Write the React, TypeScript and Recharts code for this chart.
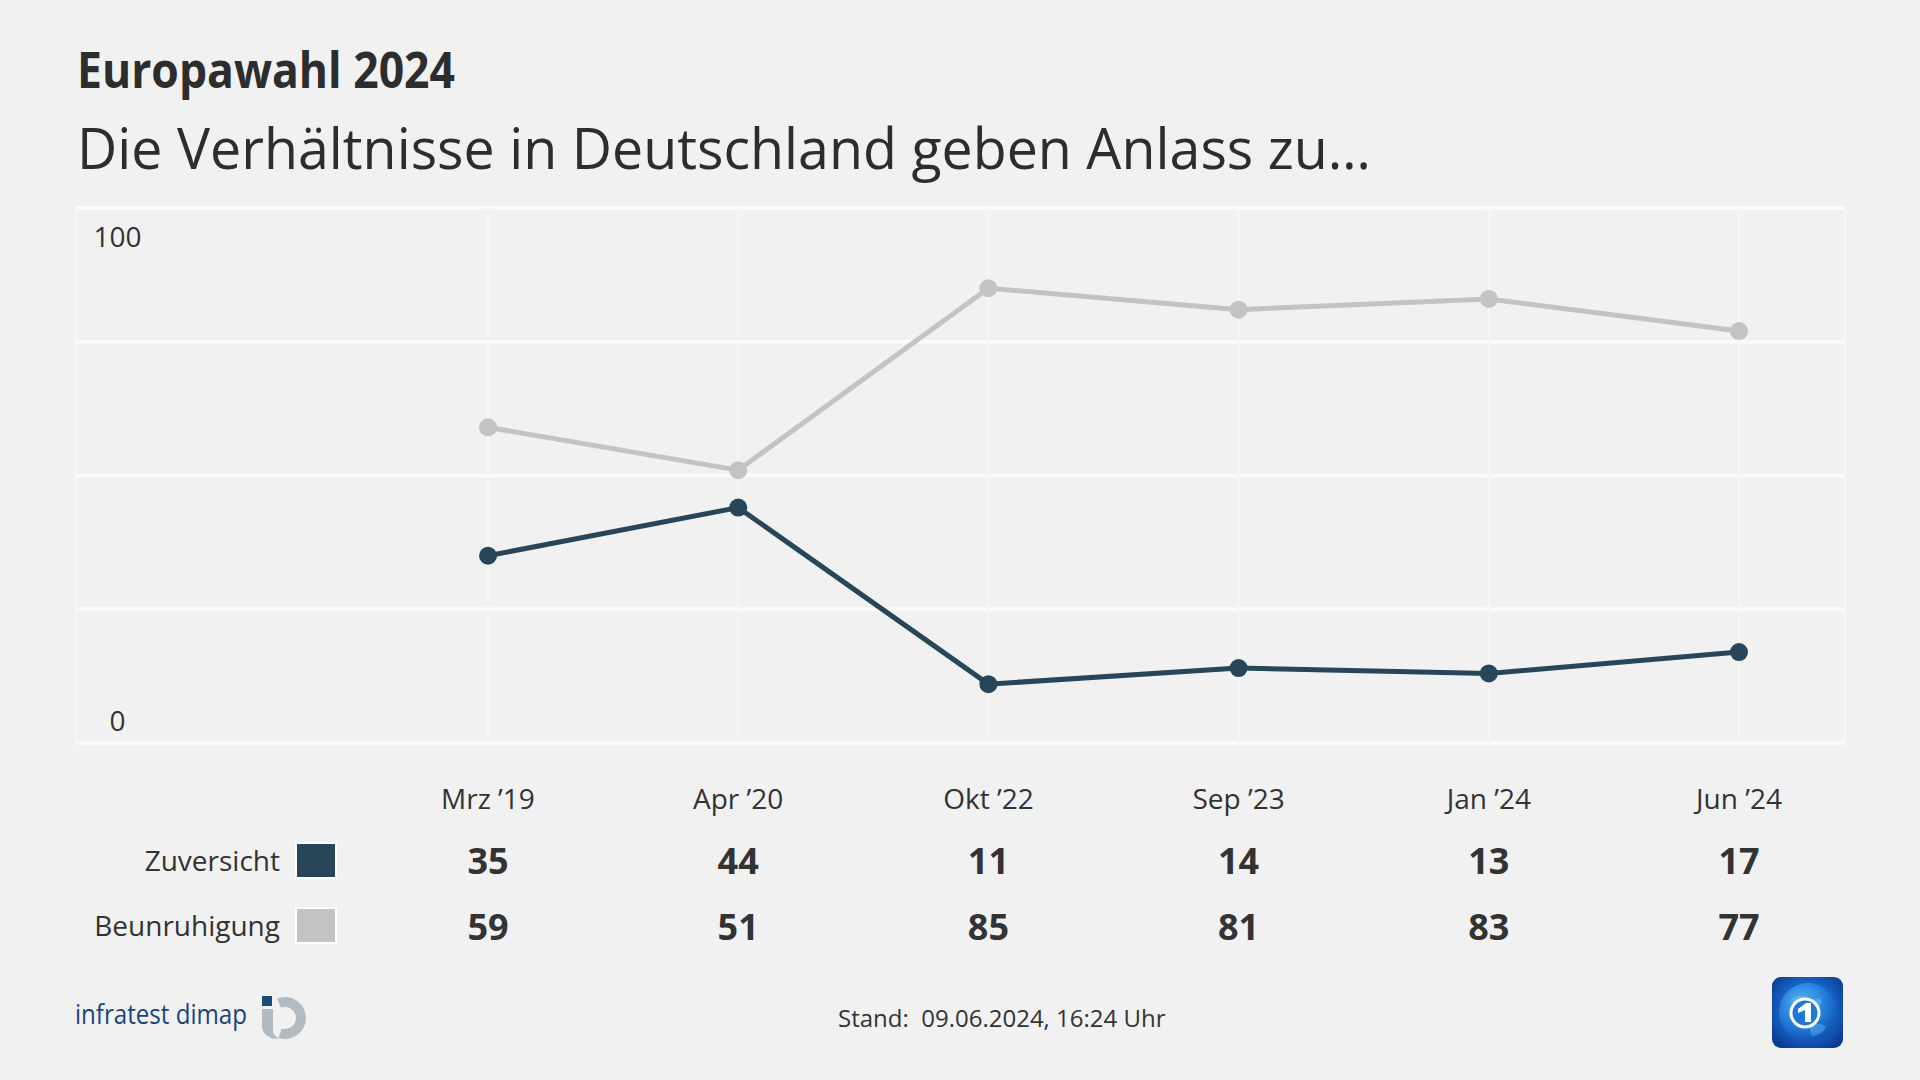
import React from 'react';
import { LineChart, Line, XAxis, YAxis, CartesianGrid } from 'recharts';

const categories = ['Mrz ’19', 'Apr ’20', 'Okt ’22', 'Sep ’23', 'Jan ’24', 'Jun ’24'];
const zuversicht = [35, 44, 11, 14, 13, 17];
const beunruhigung = [59, 51, 85, 81, 83, 77];
const yTicks = [0, 25, 50, 75, 100];
const yLabelTicks = [0, 100];

const seriesNames = ['Zuversicht', 'Beunruhigung'];
const seriesColors = ['#28465a', '#c3c3c3'];

const data = categories.map((c, i) => ({
  cat: c,
  zuversicht: zuversicht[i],
  beunruhigung: beunruhigung[i],
}));

const FONT = "'Open Sans', 'Noto Sans', sans-serif";
const TEXT = '#333333';

const XTick = (props: any) => {
  const { x, payload } = props;
  const i = categories.indexOf(payload.value);
  return (
    <g>
      <text x={x} y={809} textAnchor="middle" fontSize={28} fill={TEXT} fontFamily={FONT}>
        {payload.value}
      </text>
      <text x={x} y={874} textAnchor="middle" fontSize={36} fontWeight={700} fill={TEXT} fontFamily={FONT}>
        {zuversicht[i]}
      </text>
      <text x={x} y={940} textAnchor="middle" fontSize={36} fontWeight={700} fill={TEXT} fontFamily={FONT}>
        {beunruhigung[i]}
      </text>
    </g>
  );
};

const YTick = (props: any) => {
  const { y, payload } = props;
  if (!yLabelTicks.includes(Number(payload.value))) return <g />;
  const dy = Number(payload.value) === 100 ? 39 : -12;
  return (
    <text x={117.5} y={y + dy} textAnchor="middle" fontSize={28} fill={TEXT} fontFamily={FONT}>
      {payload.value}
    </text>
  );
};

const InfratestLogo = () => {
  const cx = 285, cy = 1018, R = 21, r = 11;
  const a0 = (-112 * Math.PI) / 180;
  const a1 = (108 * Math.PI) / 180;
  const p = (rad: number, a: number) => `${cx + rad * Math.cos(a)} ${cy + rad * Math.sin(a)}`;
  const d = `M ${p(R, a0)} A ${R} ${R} 0 1 1 ${p(R, a1)} L ${p(r, a1)} A ${r} ${r} 0 1 0 ${p(r, a0)} Z`;
  return (
    <g>
      <rect x={262} y={996} width={10} height={10} fill="#1b4a7d" />
      <path d={d} fill="#b3bbc2" />
      <path d="M262 1009 L273 1009 L273 1030 Q273 1036 279 1038 L275 1039 Q262 1036 262 1026 Z" fill="#b3bbc2" />
    </g>
  );
};

const ArdLogo = () => (
  <g>
    <defs>
      <radialGradient id="ardBg" cx="50%" cy="45%" r="65%">
        <stop offset="0%" stopColor="#2a8ae2" />
        <stop offset="60%" stopColor="#1660c6" />
        <stop offset="100%" stopColor="#0a3a8e" />
      </radialGradient>
      <radialGradient id="ardGlobe" cx="40%" cy="35%" r="70%">
        <stop offset="0%" stopColor="#5cb8f5" />
        <stop offset="55%" stopColor="#2480dc" />
        <stop offset="100%" stopColor="#1050b0" />
      </radialGradient>
    </defs>
    <rect x={1772} y={977} width={71} height={71} rx={9} fill="url(#ardBg)" />
    <circle cx={1808} cy={1012} r={29} fill="url(#ardGlobe)" />
    <path d="M1790 1000 q8 -6 16 -3 q6 4 14 1 q4 6 -2 9 q-8 -2 -12 2 q-8 0 -16 -9 Z" fill="#6cc2f7" opacity={0.45} />
    <path d="M1812 1024 q8 -2 14 3 q-4 8 -14 9 q-4 -6 0 -12 Z" fill="#6cc2f7" opacity={0.4} />
    <circle cx={1805} cy={1013} r={14} fill="#1f78d6" stroke="#ffffff" strokeWidth={3} />
    <path d="M1798 1009 L1806 1003 L1811 1003 L1811 1022 L1805 1022 L1805 1010 L1798 1013 Z" fill="#ffffff" />
  </g>
);

export default function App() {
  return (
    <div
      style={{
        position: 'absolute',
        left: 0,
        top: 0,
        width: 1920,
        height: 1080,
        background: '#f1f1f1',
        fontFamily: FONT,
        overflow: 'hidden',
      }}
    >
      <div style={{ position: 'absolute', left: 0, top: 0 }}>
        <LineChart width={1920} height={1080} data={data} margin={{ top: 208, right: 75, bottom: 87, left: 16 }}>
          <CartesianGrid vertical={false} stroke="#fafafa" strokeWidth={4} />
          <CartesianGrid horizontal={false} stroke="#f6f6f6" strokeWidth={2} />
          <XAxis
            dataKey="cat"
            scale="point"
            padding={{ left: 412, right: 106 }}
            height={250}
            axisLine={false}
            tickLine={false}
            tick={<XTick />}
            interval={0}
          />
          <YAxis
            width={60}
            domain={[0, 100]}
            ticks={yTicks}
            axisLine={false}
            tickLine={false}
            tick={<YTick />}
            interval={0}
          />
          <Line
            type="linear"
            dataKey="beunruhigung"
            name={seriesNames[1]}
            stroke={seriesColors[1]}
            strokeWidth={5}
            dot={{ r: 9, fill: seriesColors[1], stroke: seriesColors[1], strokeWidth: 0 }}
            activeDot={false}
            isAnimationActive={false}
          />
          <Line
            type="linear"
            dataKey="zuversicht"
            name={seriesNames[0]}
            stroke={seriesColors[0]}
            strokeWidth={5}
            dot={{ r: 9, fill: seriesColors[0], stroke: seriesColors[0], strokeWidth: 0 }}
            activeDot={false}
            isAnimationActive={false}
          />
        </LineChart>
      </div>
      <svg
        width={1920}
        height={1080}
        style={{ position: 'absolute', left: 0, top: 0, pointerEvents: 'none' }}
      >
        <text x={77} y={88} fontSize={50} fontWeight={700} fill="#2d2d2d" fontFamily={FONT} textLength={378} lengthAdjust="spacingAndGlyphs">
          Europawahl 2024
        </text>
        <text x={77} y={169} fontSize={57} fill="#2d2d2d" fontFamily={FONT} textLength={1294} lengthAdjust="spacingAndGlyphs">
          Die Verhältnisse in Deutschland geben Anlass zu…
        </text>

        {seriesNames.map((n, i) => (
          <g key={n}>
            <text x={280} y={i === 0 ? 871 : 936} textAnchor="end" fontSize={28} fill={TEXT} fontFamily={FONT}>
              {n}
            </text>
            <rect x={296} y={i === 0 ? 843 : 908} width={40} height={35} fill={seriesColors[i]} stroke="#ffffff" strokeWidth={2} />
          </g>
        ))}

        <text x={75} y={1024} fontSize={28} fontWeight={500} fill="#1a4578" fontFamily={FONT} textLength={172} lengthAdjust="spacingAndGlyphs">
          infratest dimap
        </text>
        <InfratestLogo />
        <text x={838} y={1027} fontSize={24} fill={TEXT} fontFamily={FONT} style={{ whiteSpace: 'pre' }}>
          {'Stand:  09.06.2024, 16:24 Uhr'}
        </text>
        <ArdLogo />
      </svg>
    </div>
  );
}
